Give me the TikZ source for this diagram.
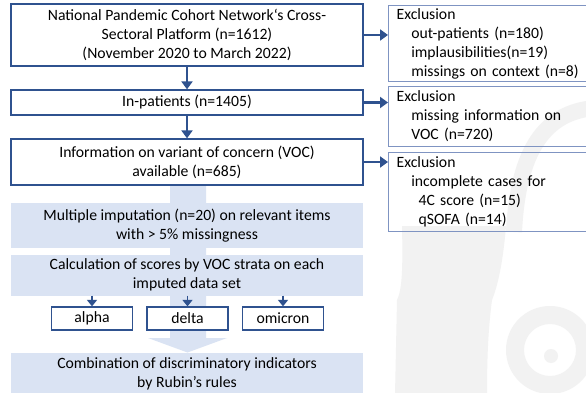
\documentclass[tikz,border=0pt]{standalone}
\usepackage{fontspec}
\setmainfont{Carlito}
\usetikzlibrary{arrows.meta}
\definecolor{bdark}{HTML}{2F528F}
\definecolor{blight}{HTML}{7F94C2}
\definecolor{pale}{HTML}{DAE3F3}
\definecolor{arr}{HTML}{2F528F}
\definecolor{wm}{HTML}{F2F2F2}
\tikzset{
  mainbox/.style={draw=bdark, line width=1.3pt, fill=white, minimum width=352pt, align=center, inner sep=0pt},
  palebox/.style={fill=pale, minimum width=352pt, align=center, inner sep=0pt},
  exbox/.style={draw=blight, line width=1.3pt, align=left, text width=190pt, inner xsep=8pt, inner ysep=0pt, anchor=north west},
  smallbox/.style={draw=bdark, line width=1.3pt, fill=white, minimum width=81pt, minimum height=23pt, inner sep=0pt},
  flowarrow/.style={draw=arr, line width=2.2pt, -{Triangle[length=8pt,width=11pt]}},
  smallarrow/.style={draw=arr, line width=1.8pt, -{Triangle[length=6.5pt,width=10pt]}}
}
\begin{document}
\begin{tikzpicture}[x=1pt,y=-1pt, font=\fontsize{15.7}{19}\selectfont]
\clip (0,0) rectangle (586,393);
\fill[white] (0,0) rectangle (586,393);
% faint watermark
\fill[wm] (402,226) -- (506,226) .. controls (503,262) and (498,285) .. (492,300)
  .. controls (488,330) and (487,360) .. (487,395) -- (395,395) -- (397,300)
  .. controls (402,290) and (403,270) .. (402,226) -- cycle;
\fill[wm, even odd rule] (550,350) circle (44) (550,350) circle (26) (551,356) circle (7);
\draw[wm, line width=16pt] (595,108) .. controls (545,112) and (518,150) .. (514,232);
% pale block arrow behind the lower part
\fill[pale] (170,185) -- (206,185) -- (206,338) -- (227,338) -- (187.5,352.5) -- (148,338) -- (170,338) -- cycle;
% main column
\node[mainbox, minimum height=62pt] (b1) at (187,35)
  {National Pandemic Cohort Network‘s Cross-\\Sectoral Platform (n=1612)\\(November 2020 to March 2022)};
\node[mainbox, minimum height=25pt] (b2) at (187,102.5) {In-patients (n=1405)};
\node[mainbox, minimum height=46pt] (b3) at (187,162) {Information on variant of concern (VOC)\\available (n=685)};
\node[palebox, minimum height=45pt] (b4) at (187,225.5) {Multiple imputation (n=20) on relevant items\\with > 5\% missingness};
\node[palebox, minimum height=41pt] (b5) at (187,275) {Calculation of scores by VOC strata on each\\imputed data set};
\node[smallbox] (alpha) at (92,318.5) {alpha};
\node[smallbox] (delta) at (187.5,318.5) {delta};
\node[smallbox] (omicron) at (283,318.5) {omicron};
\node[palebox, minimum height=42pt] (b6) at (187,374) {Combination of discriminatory indicators\\by Rubin's rules};
% exclusion boxes
\node[exbox, minimum height=76.3pt] (e1) at (388,4.7)
  {Exclusion\\\hspace*{14.7pt}out-patients (n=180)\\\hspace*{14.7pt}implausibilities(n=19)\\\hspace*{14.7pt}missings on context (n=8)};
\node[exbox, minimum height=59.7pt] (e2) at (388,86)
  {Exclusion\\\hspace*{14.7pt}missing information on\\\hspace*{14.7pt}VOC (n=720)};
\node[exbox, minimum height=79.3pt] (e3) at (388,151.7)
  {Exclusion\\\hspace*{14.7pt}incomplete cases for\\\hspace*{22pt}4C score (n=15)\\\hspace*{22pt}qSOFA (n=14)};
% arrows
\draw[flowarrow] (b1) -- (b2);
\draw[flowarrow] (b2) -- (b3);
\draw[flowarrow] (b1.east) -- (b1.east -| e1.west);
\draw[flowarrow] (b2.east) -- (b2.east -| e2.west);
\draw[flowarrow] (b3.east) -- (b3.east -| e3.west);
\draw[smallarrow] (alpha.north |- b5.south) -- (alpha.north);
\draw[smallarrow] (delta.north |- b5.south) -- (delta.north);
\draw[smallarrow] (omicron.north |- b5.south) -- (omicron.north);
\end{tikzpicture}
\end{document}
